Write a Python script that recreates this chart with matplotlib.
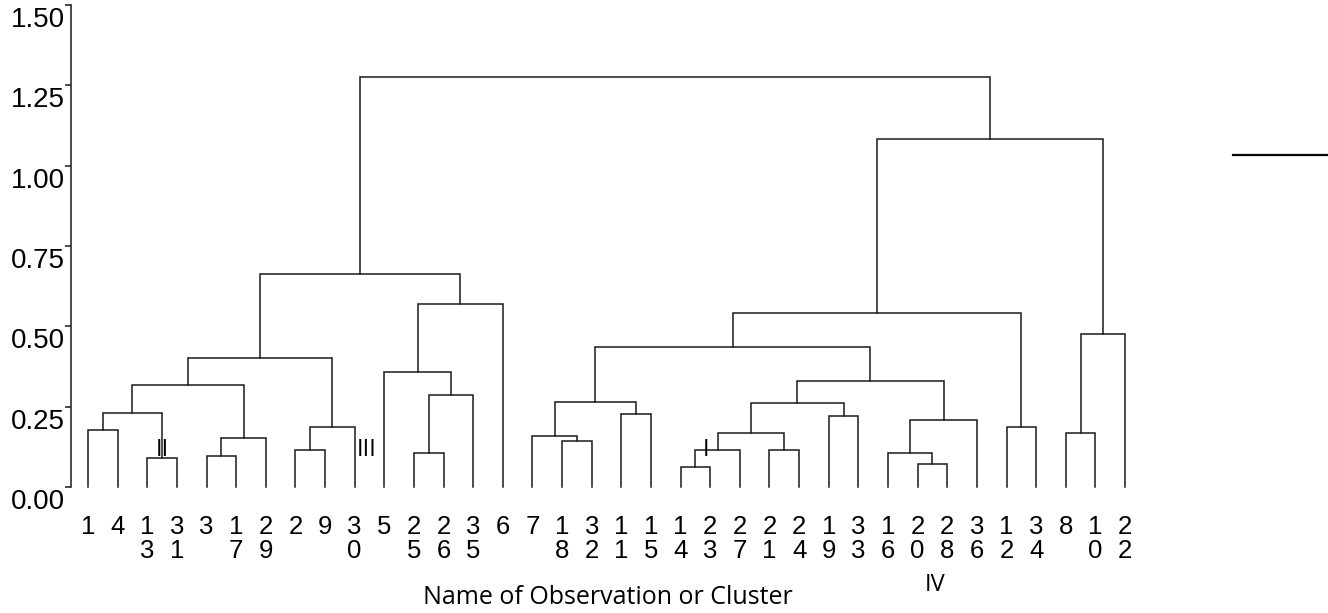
import matplotlib
matplotlib.use("Agg")
import matplotlib.pyplot as plt
from matplotlib.lines import Line2D
from matplotlib.transforms import ScaledTranslation

# leaf order as drawn, left to right
leaf_order = [1, 4, 13, 31, 3, 17, 29, 2, 9, 30, 5, 25, 26, 35, 6,
              7, 18, 32, 11, 15, 14, 23, 27, 21, 24, 19, 33, 16, 20, 28, 36,
              12, 34, 8, 10, 22]

# merges: (left, right, height); "Cn" means the n-th merge in this list
merges = [
    (1, 4, 0.177),        # C0
    (13, 31, 0.090),      # C1
    ("C0", "C1", 0.231),  # C2
    (3, 17, 0.095),       # C3
    ("C3", 29, 0.153),    # C4
    ("C2", "C4", 0.318),  # C5
    (2, 9, 0.115),        # C6
    ("C6", 30, 0.188),    # C7
    ("C5", "C7", 0.401),  # C8
    (25, 26, 0.106),      # C9
    ("C9", 35, 0.285),    # C10
    (5, "C10", 0.357),    # C11
    ("C11", 6, 0.571),    # C12
    ("C8", "C12", 0.663), # C13
    (18, 32, 0.143),      # C14
    (7, "C14", 0.159),    # C15
    (11, 15, 0.227),      # C16
    ("C15", "C16", 0.264),# C17
    (14, 23, 0.061),      # C18
    ("C18", 27, 0.115),   # C19
    (21, 24, 0.115),      # C20
    ("C19", "C20", 0.169),# C21
    (19, 33, 0.222),      # C22
    ("C21", "C22", 0.260),# C23
    (20, 28, 0.0705),     # C24
    (16, "C24", 0.106),   # C25
    ("C25", 36, 0.208),   # C26
    ("C23", "C26", 0.329),# C27
    ("C17", "C27", 0.435),# C28
    (12, 34, 0.188),      # C29
    ("C28", "C29", 0.542),# C30
    (8, 10, 0.169),       # C31
    ("C31", 22, 0.475),   # C32
    ("C30", "C32", 1.083),# C33
    ("C13", "C33", 1.276),# C34
]

yticks = [0.00, 0.25, 0.50, 0.75, 1.00, 1.25, 1.50]

# roman numeral cluster tags: (text, leaf position, height)
tags = [("II", 2.5, 0.115), ("III", 9.4, 0.115), ("I", 20.86, 0.115), ("IV", 28.6, -0.305)]

fig = plt.figure(figsize=(13.28, 6.13), dpi=100)
ax_w = 1 - 71 / 1328
ax = fig.add_axes([71 / 1328, (613 - 487) / 613, ax_w, 482 / 613])

# node positions
pos = {}
for i, leaf in enumerate(leaf_order):
    pos[leaf] = (i, 0.0)

col = "#1a1a1a"
for n, (a, b, h) in enumerate(merges):
    xa, ha = pos[a]
    xb, hb = pos[b]
    ax.plot([xa, xa, xb, xb], [ha, h, h, hb], color=col, lw=1.1,
            solid_joinstyle="miter", clip_on=False)
    pos["C%d" % n] = ((xa + xb) / 2, h)

x0 = -17 / 29.63
ax.set_xlim(x0, x0 + ax_w * 1328 / 29.63)
ax.set_ylim(0, 1.5)

for s in ["top", "right", "bottom"]:
    ax.spines[s].set_visible(False)
ax.spines["left"].set_linewidth(1.1)
ax.spines["left"].set_color(col)

ax.set_yticks(yticks)
ax.set_yticklabels([])
ax.tick_params(axis="y", length=4, width=1.1, colors=col)
off = ax.get_yaxis_transform() + ScaledTranslation(-0.06, -0.02, fig.dpi_scale_trans)
for v in yticks:
    ax.text(0, v, "%.2f" % v, transform=off, ha="right", va="top",
            fontsize=20, family="Liberation Sans")

labels = ["\n".join(str(v)) for v in leaf_order]
ax.set_xticks(range(len(leaf_order)))
ax.set_xticklabels(labels, fontsize=18.5, family="Liberation Sans")
ax.tick_params(axis="x", length=0, pad=20)
for lbl in ax.get_xticklabels():
    lbl.set_linespacing(1.0)

for txt, x, y in tags:
    ax.text(x, y, txt, fontsize=17, family="Open Sans", ha="center", va="center", clip_on=False)

fig.text(607.5 / 1328, 1 - 598 / 613, "Name of Observation or Cluster", fontsize=18,
         family="Open Sans", ha="center", va="center")

fig.add_artist(Line2D([1233 / 1328, 1.0], [1 - 155 / 613] * 2, color="black", lw=1.6))

fig.savefig("out.png", dpi=100)
